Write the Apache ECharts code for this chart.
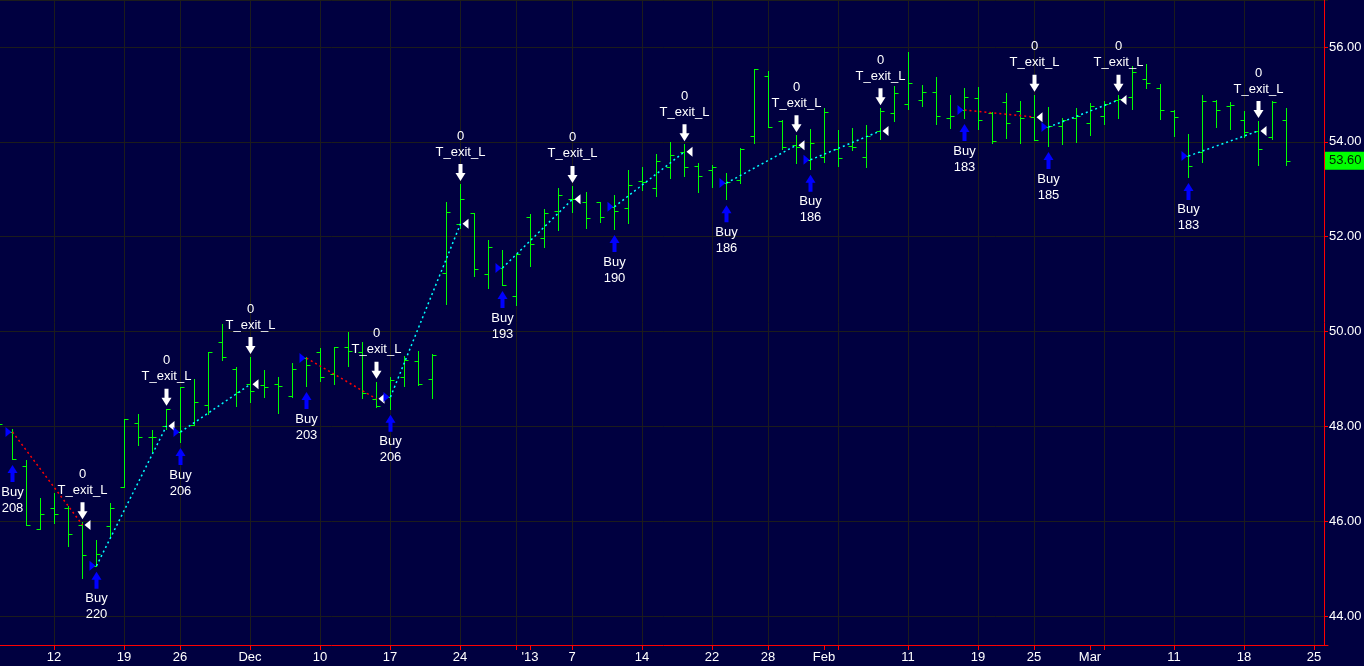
<!DOCTYPE html>
<html>
<head>
<meta charset="utf-8">
<script src="https://cdn.jsdelivr.net/npm/echarts@6.0.0/dist/echarts.min.js"></script>
<style>
  html, body { margin: 0; padding: 0; background: #000040; }
  #main { width: 1364px; height: 666px; }
</style>
</head>
<body>
<div id="main"></div>
<script>
// trading days (category axis)
const dates = [
  '2012-11-06','2012-11-07','2012-11-08','2012-11-09','2012-11-12','2012-11-13','2012-11-14','2012-11-15','2012-11-16',
  '2012-11-19','2012-11-20','2012-11-21','2012-11-23','2012-11-26','2012-11-27','2012-11-28','2012-11-29','2012-11-30',
  '2012-12-03','2012-12-04','2012-12-05','2012-12-06','2012-12-07','2012-12-10','2012-12-11','2012-12-12','2012-12-13',
  '2012-12-14','2012-12-17','2012-12-18','2012-12-19','2012-12-20','2012-12-21','2012-12-24','2012-12-26','2012-12-27',
  '2012-12-28','2012-12-31',
  '2013-01-02','2013-01-03','2013-01-04','2013-01-07','2013-01-08','2013-01-09','2013-01-10','2013-01-11','2013-01-14',
  '2013-01-15','2013-01-16','2013-01-17','2013-01-18','2013-01-22','2013-01-23','2013-01-24','2013-01-25','2013-01-28',
  '2013-01-29','2013-01-30','2013-01-31',
  '2013-02-01','2013-02-04','2013-02-05','2013-02-06','2013-02-07','2013-02-08','2013-02-11','2013-02-12','2013-02-13',
  '2013-02-14','2013-02-15','2013-02-19','2013-02-20','2013-02-21','2013-02-22','2013-02-25','2013-02-26','2013-02-27',
  '2013-02-28',
  '2013-03-01','2013-03-04','2013-03-05','2013-03-06','2013-03-07','2013-03-08','2013-03-11','2013-03-12','2013-03-13',
  '2013-03-14','2013-03-15','2013-03-18','2013-03-19','2013-03-20','2013-03-21','2013-03-22','2013-03-25','2013-03-26'
];

// OHLC, one value per day from 2012-11-06 to 2013-03-21
const open = [48.20,47.88,47.16,45.84,46.28,46.28,45.92,45.06,45.90,46.72,48.07,
  47.78,48.01,47.88,48.03,48.45,49.78,49.21,48.89,48.87,48.89,
  48.64,49.44,49.57,49.10,49.67,49.57,48.58,48.62,49.04,49.38,
  49.00,51.23,52.27,52.50,51.21,51.34,50.75,52.41,51.97,52.55,
  52.79,52.73,52.73,52.63,52.60,53.17,53.03,53.47,53.79,53.50,
  53.40,53.13,53.20,54.12,55.39,54.44,53.93,53.62,53.68,53.85,
  53.91,53.68,54.23,54.61,54.80,54.88,55.05,54.50,54.67,54.92,
  54.60,54.84,54.65,54.52,54.31,54.33,54.50,54.40,54.54,54.88,
  54.94,55.33,55.14,54.65,53.70,53.79,54.86,54.76,54.46,54.23,
  54.10,54.46];
const high = [48.35,47.94,47.29,46.49,46.59,46.32,45.98,45.60,46.38,48.16,48.26,
  47.92,48.37,48.83,49.00,49.57,50.16,49.25,49.46,49.19,49.04,
  49.34,49.46,49.65,49.67,49.99,49.78,48.94,49.04,49.48,49.59,
  49.53,52.73,53.11,52.50,51.93,51.72,51.63,52.48,52.58,53.03,
  53.07,52.94,52.73,52.88,53.41,53.47,53.74,54.00,53.95,53.55,
  53.51,53.34,53.87,55.54,55.49,54.46,54.14,54.27,54.71,54.25,
  54.29,54.36,54.71,55.18,55.89,55.20,55.37,54.99,55.14,55.16,
  54.63,55.03,54.86,54.99,54.73,54.50,54.71,54.82,54.86,54.99,
  55.60,55.64,55.22,54.67,54.17,54.99,54.88,54.84,54.65,54.44,
  54.86,54.71];
const low = [47.90,47.31,45.92,45.84,45.96,45.48,44.80,45.06,45.67,46.72,47.61,
  47.46,47.94,47.67,48.03,48.26,49.40,48.43,48.51,48.62,48.28,
  48.62,48.85,48.96,48.89,49.27,48.60,48.41,48.37,48.85,48.87,
  48.60,50.58,52.18,51.17,50.92,50.98,50.56,51.38,51.78,52.14,
  52.52,52.18,52.31,52.16,52.29,52.98,52.86,53.24,53.28,52.94,
  53.05,52.79,53.13,53.98,54.31,53.85,53.55,53.43,53.57,53.49,
  53.83,53.47,54.06,54.44,54.69,54.76,54.38,54.29,54.50,54.27,
  53.98,54.08,53.98,54.04,53.91,53.95,54.00,54.14,54.38,54.50,
  54.69,55.14,54.48,54.12,53.26,53.57,54.31,54.27,54.10,53.51,
  54.06,53.51];
const close = [48.05,47.31,45.92,46.15,46.15,45.73,45.29,45.31,46.28,48.16,47.78,
  47.78,48.37,48.83,48.51,49.57,49.46,48.72,48.75,48.83,48.85,
  49.20,49.29,49.04,49.67,49.59,48.70,48.43,48.98,49.40,48.89,
  49.50,52.52,52.79,51.32,51.78,50.98,51.63,51.85,52.50,52.88,
  52.80,52.39,52.41,52.54,53.09,53.15,53.60,53.72,53.47,53.28,
  53.47,53.15,53.85,55.54,54.31,53.89,53.89,53.98,54.63,53.66,
  53.89,54.12,54.65,55.02,55.24,55.05,54.54,54.54,54.95,54.46,
  54.02,54.40,54.50,54.04,54.33,54.46,54.55,54.75,54.80,54.90,
  55.47,55.24,54.67,54.52,53.49,54.86,54.67,54.78,54.20,53.85,
  54.84,53.60];

// trades
const buyDates = ['2012-11-07','2012-11-15','2012-11-26','2012-12-07','2012-12-17','2012-12-28',
  '2013-01-10','2013-01-23','2013-01-31','2013-02-15','2013-02-26','2013-03-12'];
const buyPrice = [47.88,45.06,47.88,49.44,48.62,51.34,52.63,53.13,53.62,54.67,54.31,53.70];
const buyQty = [208,220,206,203,206,193,190,186,186,183,185,183];
const exitDates = ['2012-11-14','2012-11-23','2012-12-03','2012-12-14','2012-12-24','2013-01-07',
  '2013-01-17','2013-01-30','2013-02-07','2013-02-25','2013-03-05','2013-03-19'];
const exitPrice = [45.92,48.01,48.89,48.58,52.27,52.79,53.79,53.93,54.23,54.52,54.88,54.23];

// x axis: labelled days, week grid lines
const labelDates = ['2012-11-12','2012-11-19','2012-11-26','2012-12-03','2012-12-10','2012-12-17','2012-12-24',
  '2013-01-02','2013-01-07','2013-01-14','2013-01-22','2013-01-28','2013-02-01','2013-02-11','2013-02-19',
  '2013-02-25','2013-03-01','2013-03-11','2013-03-18','2013-03-25'];
const labelTexts = ['12','19','26','Dec','10','17','24',"'13",'7','14','22','28','Feb','11','19','25','Mar','11','18','25'];
const gridDates = ['2012-11-12','2012-11-19','2012-11-26','2012-12-03','2012-12-10','2012-12-17','2012-12-24',
  '2012-12-31','2013-01-07','2013-01-14','2013-01-22','2013-01-28','2013-02-04','2013-02-11','2013-02-19',
  '2013-02-25','2013-03-04','2013-03-11','2013-03-18','2013-03-25'];

const FONT = '13px "Liberation Sans", Arial, sans-serif';
const barColor = '#00ff00';

const ohlcData = open.map((o, k) => [k, o, high[k], low[k], close[k]]);
const tradeData = buyDates.map((d, j) => {
  const bk = dates.indexOf(d);
  const ek = dates.indexOf(exitDates[j]);
  return [bk, buyPrice[j], ek, exitPrice[j], buyQty[j], low[bk], high[ek]];
});

function px(v) {
  return Math.round(v) + 0.5;
}

function renderBar(params, api) {
  const k = api.value(0);
  const x = px(api.coord([k, api.value(1)])[0]);
  const yo = px(api.coord([k, api.value(1)])[1]);
  const yh = Math.round(api.coord([k, api.value(2)])[1]);
  const yl = Math.round(api.coord([k, api.value(3)])[1]);
  const yc = px(api.coord([k, api.value(4)])[1]);
  const st = { stroke: barColor, lineWidth: 1 };
  return {
    type: 'group',
    children: [
      { type: 'line', shape: { x1: x, y1: yh, x2: x, y2: yl + 1 }, style: st },
      { type: 'line', shape: { x1: x - 4, y1: yo, x2: x, y2: yo }, style: st },
      { type: 'line', shape: { x1: x, y1: yc, x2: x + 4, y2: yc }, style: st }
    ]
  };
}

function renderTrade(params, api) {
  const bk = api.value(0), bp = api.value(1), ek = api.value(2), ep = api.value(3);
  const b = api.coord([bk, bp]);
  const e = api.coord([ek, ep]);
  const lo = api.coord([bk, api.value(5)]);
  const hi = api.coord([ek, api.value(6)]);
  const bx = Math.round(b[0]) + 0.5;
  const ex = Math.round(e[0]) + 0.5;
  const lineColor = ep > bp ? '#00ffff' : '#ff0000';
  const up = lo[1] + 6;   // tip of buy arrow
  const dn = hi[1] - 3;   // tip of exit arrow
  const txt = (t, x, y) => ({
    type: 'text',
    style: { text: t, x: x, y: y, fill: '#ffffff', font: FONT, align: 'center', verticalAlign: 'middle' }
  });
  return {
    type: 'group',
    children: [
      { type: 'line', shape: { x1: bx, y1: b[1], x2: ex, y2: e[1] },
        style: { stroke: lineColor, lineWidth: 1.5, lineDash: [2, 3] } },
      { type: 'polygon', shape: { points: [[bx - 7, b[1] - 5], [bx - 1, b[1]], [bx - 7, b[1] + 5]] },
        style: { fill: '#0000ff' } },
      { type: 'polygon', shape: { points: [[ex + 8, e[1] - 5], [ex + 2, e[1]], [ex + 8, e[1] + 5]] },
        style: { fill: '#ffffff' } },
      { type: 'polygon', shape: { points: [[bx - 2, up + 17], [bx + 2, up + 17], [bx + 2, up + 8], [bx + 5, up + 8],
        [bx, up], [bx - 5, up + 8], [bx - 2, up + 8]] }, style: { fill: '#0000ff' } },
      { type: 'polygon', shape: { points: [[ex - 2, dn - 17], [ex + 2, dn - 17], [ex + 2, dn - 8], [ex + 5, dn - 8],
        [ex, dn], [ex - 5, dn - 8], [ex - 2, dn - 8]] }, style: { fill: '#ffffff' } },
      txt('Buy', bx, lo[1] + 33),
      txt(String(api.value(4)), bx, lo[1] + 49),
      txt('T_exit_L', ex, hi[1] - 32),
      txt('0', ex, hi[1] - 48)
    ]
  };
}

const chart = echarts.init(document.getElementById('main'));
chart.setOption({
  backgroundColor: '#000040',
  animation: false,
  grid: { left: -2, right: 36, top: 0, bottom: 21, outerBoundsMode: 'none' },
  xAxis: {
    type: 'category',
    data: dates,
    boundaryGap: false,
    axisLine: { lineStyle: { color: '#ff0000', width: 1 } },
    axisTick: {
      length: 5,
      lineStyle: { color: '#ff0000' },
      interval: (i, v) => labelDates.includes(v) || gridDates.includes(v)
    },
    axisLabel: {
      color: '#ffffff',
      fontSize: 13,
      fontFamily: '"Liberation Sans", Arial, sans-serif',
      margin: 6,
      interval: (i, v) => labelDates.includes(v),
      formatter: (v) => labelTexts[labelDates.indexOf(v)] || ''
    },
    splitLine: {
      show: true,
      interval: (i, v) => gridDates.includes(v),
      lineStyle: { color: '#1c1c1c', width: 1 }
    }
  },
  yAxis: {
    type: 'value',
    position: 'right',
    offset: -4,
    min: 43.39,
    max: 56.99,
    splitNumber: 7,
    minInterval: 2,
    maxInterval: 2,
    axisLine: { show: true, lineStyle: { color: '#ff0000', width: 1 } },
    axisTick: { show: true, length: 4, lineStyle: { color: '#ff0000' } },
    axisLabel: {
      color: '#ffffff',
      fontSize: 13,
      fontFamily: '"Liberation Sans", Arial, sans-serif',
      margin: 5,
      showMinLabel: false,
      showMaxLabel: false,
      formatter: (v) => v.toFixed(2)
    },
    splitLine: { show: true, lineStyle: { color: '#1c1c1c', width: 1 } }
  },
  series: [
    {
      name: 'price',
      type: 'custom',
      renderItem: renderBar,
      encode: { x: 0, y: [1, 2, 3, 4] },
      data: ohlcData,
      z: 2,
      markLine: {
        silent: true,
        symbol: ['none', 'none'],
        lineStyle: { color: 'rgba(0,0,0,0)', width: 1 },
        label: {
          show: true,
          position: 'end',
          distance: -3,
          color: '#002000',
          backgroundColor: '#00ff00',
          padding: [3, 4, 2, 4],
          fontSize: 13,
          fontFamily: '"Liberation Sans", Arial, sans-serif',
          formatter: () => close[close.length - 1].toFixed(2)
        },
        data: [{ yAxis: close[close.length - 1] }]
      }
    },
    {
      name: 'trades',
      type: 'custom',
      renderItem: renderTrade,
      encode: { x: [0, 2], y: [1, 3] },
      data: tradeData,
      z: 3
    }
  ]
});
</script>
</body>
</html>
